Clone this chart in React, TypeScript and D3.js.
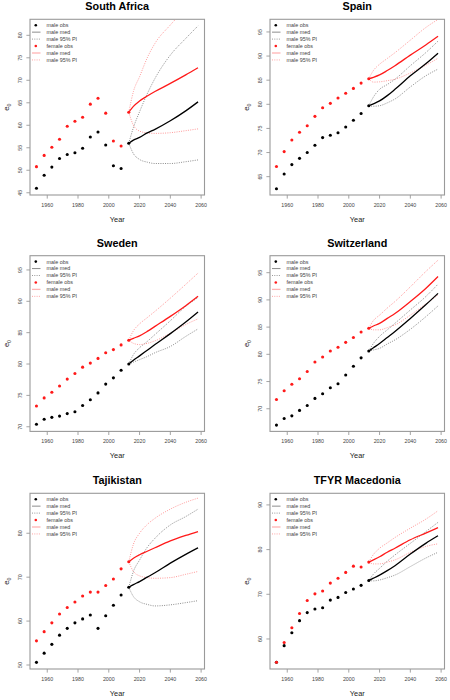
import React from "react";
import * as d3 from "d3";

// ---------- data ----------
const obsYears = [1953, 1958, 1963, 1968, 1973, 1978, 1983, 1988, 1993, 1998, 2003, 2008, 2013];
const projYears = [2013, 2016, 2020, 2025, 2030, 2040, 2050, 2058];
const countryNames = ["South Africa", "Spain", "Sweden", "Switzerland", "Tajikistan", "TFYR Macedonia"];
const legendLabels = ["male obs", "male med", "male 95% PI", "female obs", "male med", "male 95% PI"];

// South Africa
const zafMaleObs = [46.0, 48.9, 50.7, 52.6, 53.5, 53.9, 54.9, 57.4, 58.5, 55.6, 51.0, 50.4, 56.0];
const zafFemaleObs = [50.8, 53.3, 55.1, 56.9, 59.8, 60.9, 61.8, 64.7, 66.0, 62.7, 56.5, 55.4, 62.9];
const zafMaleMed = [56.0, 56.7, 57.3, 58.3, 59.1, 61.0, 63.2, 65.2];
const zafMaleHi = [56.0, 59.5, 63.0, 67.0, 70.4, 75.6, 79.3, 82.1];
const zafMaleLo = [56.0, 53.7, 52.4, 51.8, 51.5, 51.5, 51.9, 52.3];
const zafFemMed = [62.9, 64.2, 65.4, 66.5, 67.5, 69.3, 71.2, 72.8];
const zafFemHi = [62.9, 67.5, 70.8, 75.0, 78.2, 82.3, 86.0, 89.0];
const zafFemLo = [62.9, 60.0, 58.7, 58.3, 58.2, 58.35, 58.8, 59.2];

// Spain
const espMaleObs = [62.5, 65.55, 67.5, 68.8, 70.0, 71.5, 73.1, 73.6, 74.1, 75.3, 76.7, 78.1, 79.7];
const espFemaleObs = [67.1, 70.2, 72.6, 74.2, 75.55, 77.5, 79.3, 80.2, 81.3, 82.3, 83.3, 84.4, 85.3];
const espMaleMed = [79.7, 80.1, 80.7, 81.8, 83.1, 85.9, 88.4, 90.6];
const espMaleHi = [79.7, 81.5, 83.1, 84.1, 85.2, 88.0, 90.7, 93.1];
const espMaleLo = [79.7, 79.6, 79.7, 80.3, 81.1, 83.6, 85.9, 87.3];
const espFemMed = [85.3, 85.6, 86.1, 87.0, 88.0, 90.2, 92.3, 94.1];
const espFemHi = [85.3, 87.0, 88.3, 89.5, 90.7, 93.3, 95.9, 97.6];
const espFemLo = [85.3, 84.6, 84.66, 84.9, 85.2, 86.5, 88.1, 89.55];

// Sweden
const sweMaleObs = [70.4, 71.2, 71.5, 71.7, 72.1, 72.4, 73.4, 74.3, 75.4, 76.8, 77.8, 79.0, 80.0];
const sweFemaleObs = [73.3, 74.6, 75.5, 76.5, 77.6, 78.5, 79.5, 80.15, 80.9, 81.8, 82.3, 83.05, 83.8];
const sweMaleMed = [80.0, 80.6, 81.3, 82.2, 83.1, 84.85, 86.7, 88.3];
const sweMaleHi = [80.0, 81.5, 82.6, 83.6, 84.7, 86.9, 89.2, 90.6];
const sweMaleLo = [80.0, 80.3, 80.7, 81.2, 81.8, 82.8, 84.4, 85.6];
const sweFemMed = [83.8, 84.1, 84.5, 85.2, 86.0, 87.6, 89.3, 90.8];
const sweFemHi = [83.8, 85.3, 86.4, 87.4, 88.4, 90.5, 92.7, 94.5];
const sweFemLo = [83.8, 83.3, 83.1, 83.3, 83.7, 84.9, 86.3, 87.2];

// Switzerland
const cheMaleObs = [67.0, 68.2, 68.7, 69.7, 70.6, 71.9, 72.75, 73.85, 74.6, 76.2, 77.8, 79.35, 80.6];
const cheFemaleObs = [71.7, 73.3, 74.5, 75.5, 76.85, 78.6, 79.5, 80.6, 81.3, 82.2, 83.1, 84.1, 84.8];
const cheMaleMed = [80.6, 81.2, 82.0, 83.1, 84.2, 86.6, 89.1, 91.2];
const cheMaleHi = [80.6, 82.0, 83.3, 84.5, 85.7, 88.15, 90.6, 92.9];
const cheMaleLo = [80.6, 80.8, 81.1, 81.9, 82.65, 84.6, 86.9, 88.9];
const cheFemMed = [84.8, 85.2, 85.7, 86.6, 87.5, 89.7, 92.1, 94.3];
const cheFemHi = [84.8, 86.2, 87.2, 88.5, 89.7, 92.4, 95.2, 97.3];
const cheFemLo = [84.8, 84.5, 84.5, 84.9, 85.4, 87.2, 89.25, 90.9];

// Tajikistan
const tjkMaleObs = [50.6, 52.7, 54.7, 56.8, 58.35, 59.6, 60.5, 61.4, 58.35, 61.2, 63.6, 65.95, 67.7];
const tjkFemaleObs = [55.5, 57.6, 59.6, 61.6, 63.1, 64.35, 65.7, 66.6, 66.6, 68.1, 69.6, 71.9, 73.5];
const tjkMaleMed = [67.7, 68.3, 69.0, 70.0, 71.0, 73.2, 75.2, 76.7];
const tjkMaleHi = [67.7, 71.3, 73.9, 76.8, 78.85, 81.9, 83.8, 85.5];
const tjkMaleLo = [67.7, 65.6, 64.4, 63.8, 63.45, 63.7, 64.2, 64.65];
const tjkFemMed = [73.5, 74.3, 75.1, 75.9, 76.7, 78.25, 79.5, 80.4];
const tjkFemHi = [73.5, 77.5, 80.0, 82.0, 83.4, 85.5, 87.05, 88.0];
const tjkFemLo = [73.5, 71.3, 70.3, 69.9, 69.75, 69.9, 70.65, 71.3];

// TFYR Macedonia
const mkdMaleObs = [54.8, 58.5, 61.4, 64.1, 65.9, 66.7, 67.0, 68.7, 69.3, 70.4, 71.2, 72.0, 73.1];
const mkdFemaleObs = [54.8, 59.2, 62.5, 65.7, 68.6, 70.1, 70.75, 72.5, 73.6, 74.9, 76.3, 76.1, 77.2];
const mkdMaleMed = [73.1, 73.6, 74.3, 75.3, 76.4, 79.0, 81.4, 83.1];
const mkdMaleHi = [73.1, 74.5, 75.8, 77.4, 78.8, 81.4, 84.0, 86.1];
const mkdMaleLo = [73.1, 73.0, 73.2, 73.7, 74.3, 76.2, 78.1, 79.4];
const mkdFemMed = [77.2, 77.7, 78.4, 79.4, 80.3, 82.2, 83.7, 84.9];
const mkdFemHi = [77.2, 78.9, 80.3, 81.5, 82.7, 84.8, 86.8, 88.7];
const mkdFemLo = [77.2, 76.8, 76.8, 77.2, 77.7, 79.4, 80.7, 81.3];

// axis limits and tick values
const xTicks = [1960, 1980, 2000, 2020, 2040, 2060];
const yLimits: [number, number][] = [
  [44.5, 83.56], [61.2, 97.62], [69.26, 97.27], [65.84, 98.12], [49.09, 89.1], [53.28, 92.6],
];
const yTickValues = [
  [45, 50, 55, 60, 65, 70, 75, 80],
  [65, 70, 75, 80, 85, 90, 95],
  [70, 75, 80, 85, 90, 95],
  [70, 75, 80, 85, 90, 95],
  [50, 60, 70, 80],
  [60, 70, 80, 90],
];

const series = [
  [zafMaleObs, zafFemaleObs, zafMaleMed, zafMaleHi, zafMaleLo, zafFemMed, zafFemHi, zafFemLo],
  [espMaleObs, espFemaleObs, espMaleMed, espMaleHi, espMaleLo, espFemMed, espFemHi, espFemLo],
  [sweMaleObs, sweFemaleObs, sweMaleMed, sweMaleHi, sweMaleLo, sweFemMed, sweFemHi, sweFemLo],
  [cheMaleObs, cheFemaleObs, cheMaleMed, cheMaleHi, cheMaleLo, cheFemMed, cheFemHi, cheFemLo],
  [tjkMaleObs, tjkFemaleObs, tjkMaleMed, tjkMaleHi, tjkMaleLo, tjkFemMed, tjkFemHi, tjkFemLo],
  [mkdMaleObs, mkdFemaleObs, mkdMaleMed, mkdMaleHi, mkdMaleLo, mkdFemMed, mkdFemHi, mkdFemLo],
];

// ---------- layout ----------
const W = 450;
const H = 700;
const colLeft = [30, 270];
const rowTop = [19.3, 255.7, 493.3];
const boxW = 174.5;
const boxH = 175.7;
const FONT = "'Liberation Sans', Arial, Helvetica, sans-serif";

const C_BLACK = "#000000";
const C_RED = "#ff1a1a";
const C_GRAY = "#8c8c8c";
const C_PINK = "#ff9a9a";

function Panel({ idx }: { idx: number }) {
  const left = colLeft[idx % 2];
  const top = rowTop[Math.floor(idx / 2)];
  const [mObs, fObs, mMed, mHi, mLo, fMed, fHi, fLo] = series[idx];
  const x = d3.scaleLinear().domain([1953 - 4.2, 2058 + 4.2]).range([left, left + boxW]);
  const y = d3.scaleLinear().domain(yLimits[idx]).range([top + boxH, top]);
  const line = d3
    .line<number>()
    .x((_, i) => x(projYears[i]))
    .y((d) => y(d))
    .curve(d3.curveMonotoneX);
  const clipId = `clip${idx}`;
  const cx = left + boxW / 2;
  const cy = top + boxH / 2;

  const legY = (i: number) => top + 5.9 + i * 6.95;
  const lx = left + 2;
  const tx = left + 16.5;

  return (
    <g>
      <defs>
        <clipPath id={clipId}>
          <rect x={left} y={top} width={boxW} height={boxH} />
        </clipPath>
      </defs>
      <text x={cx} y={top - 9.2} textAnchor="middle" fontFamily={FONT} fontWeight="bold" fontSize={10.8} fill="#000">
        {countryNames[idx]}
      </text>
      {/* box */}
      <rect x={left} y={top} width={boxW} height={boxH} fill="none" stroke="#9a9a9a" strokeWidth={1.1} />
      {/* x axis */}
      {xTicks.map((t) => (
        <g key={t}>
          <line x1={x(t)} x2={x(t)} y1={top + boxH} y2={top + boxH + 3.6} stroke="#9a9a9a" strokeWidth={0.9} />
          <text x={x(t)} y={top + boxH + 11.8} textAnchor="middle" fontFamily={FONT} fontSize={5.3} fill="#444">
            {t}
          </text>
        </g>
      ))}
      {/* y axis */}
      {yTickValues[idx].map((t) => (
        <g key={t}>
          <line x1={left - 3.6} x2={left} y1={y(t)} y2={y(t)} stroke="#9a9a9a" strokeWidth={0.9} />
          <text
            transform={`translate(${left - 8.2},${y(t)}) rotate(-90)`}
            textAnchor="middle"
            fontFamily={FONT}
            fontSize={5.3}
            fill="#444"
          >
            {t}
          </text>
        </g>
      ))}
      <text x={cx} y={top + boxH + 26.5} textAnchor="middle" fontFamily={FONT} fontSize={7.4} fill="#222">
        Year
      </text>
      <text transform={`translate(${left - 21.2},${cy}) rotate(-90)`} textAnchor="middle" fontFamily={FONT} fontSize={7.6} fill="#222">
        e<tspan fontSize={5.2} dy={2}>0</tspan>
      </text>

      <g clipPath={`url(#${clipId})`}>
        <path d={line(mHi) || ""} fill="none" stroke={C_GRAY} strokeWidth={1} strokeDasharray="1,1.3" />
        <path d={line(mLo) || ""} fill="none" stroke={C_GRAY} strokeWidth={1} strokeDasharray="1,1.3" />
        <path d={line(fHi) || ""} fill="none" stroke={C_PINK} strokeWidth={1} strokeDasharray="1,1.3" />
        <path d={line(fLo) || ""} fill="none" stroke={C_PINK} strokeWidth={1} strokeDasharray="1,1.3" />
        <path d={line(mMed) || ""} fill="none" stroke={C_BLACK} strokeWidth={1.3} />
        <path d={line(fMed) || ""} fill="none" stroke={C_RED} strokeWidth={1.3} />
        {mObs.map((v, i) => (
          <circle key={"m" + i} cx={x(obsYears[i])} cy={y(v)} r={1.55} fill={C_BLACK} />
        ))}
        {fObs.map((v, i) => (
          <circle key={"f" + i} cx={x(obsYears[i])} cy={y(v)} r={1.55} fill={C_RED} />
        ))}
      </g>

      {/* legend */}
      <g>
        <circle cx={left + 5.8} cy={legY(0)} r={1.3} fill={C_BLACK} />
        <line x1={lx} x2={lx + 8.5} y1={legY(1)} y2={legY(1)} stroke="#808080" strokeWidth={0.9} />
        <line x1={lx} x2={lx + 8.5} y1={legY(2)} y2={legY(2)} stroke={C_GRAY} strokeWidth={0.9} strokeDasharray="1,1.3" />
        <circle cx={left + 5.8} cy={legY(3)} r={1.3} fill={C_RED} />
        <line x1={lx} x2={lx + 8.5} y1={legY(4)} y2={legY(4)} stroke="#ffb3b3" strokeWidth={1.3} />
        <line x1={lx} x2={lx + 8.5} y1={legY(5)} y2={legY(5)} stroke={C_PINK} strokeWidth={0.9} strokeDasharray="1,1.3" />
        {legendLabels.map((s, i) => (
          <text key={i} x={tx} y={legY(i) + 1.9} fontFamily={FONT} fontSize={5.4} fill="#444">
            {s}
          </text>
        ))}
      </g>
    </g>
  );
}

export default function App() {
  return (
    <svg
      width={W}
      height={H}
      viewBox={`0 0 ${W} ${H}`}
      style={{ position: "absolute", left: 0, top: 0, background: "#fff" }}
    >
      <rect x={0} y={0} width={W} height={H} fill="#fff" />
      {countryNames.map((_, i) => (
        <Panel key={i} idx={i} />
      ))}
    </svg>
  );
}
